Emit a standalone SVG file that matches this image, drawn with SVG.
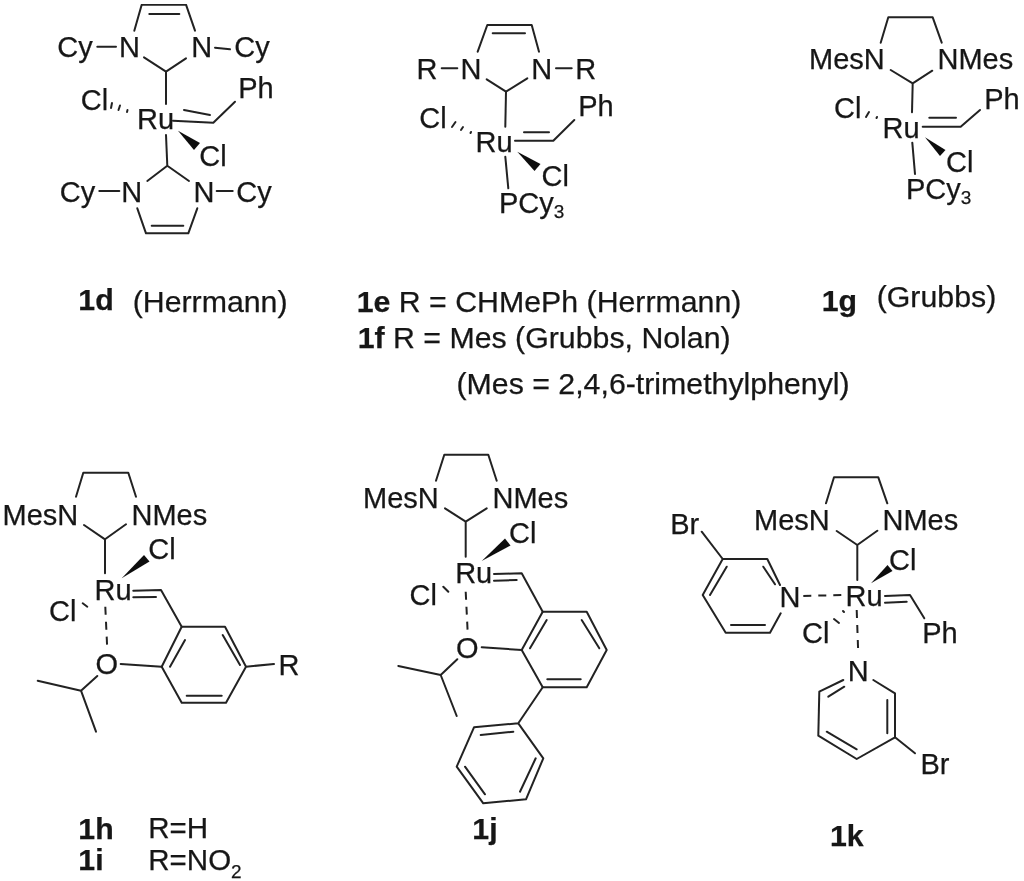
<svg xmlns="http://www.w3.org/2000/svg" width="1024" height="881" viewBox="0 0 1024 881">
<style>
text{font-family:"Liberation Sans",Arial,sans-serif;fill:#161616;stroke:#161616;stroke-width:.25}
.a{font-size:29px;text-anchor:middle}
.s{font-size:29px}
.l{font-size:30.3px}
.b{font-weight:bold}
.n{font-size:29.5px}
.bonds path{fill:none;stroke:#222;stroke-width:2;stroke-linecap:round;stroke-linejoin:round}
.bonds .d{stroke-dasharray:8 7;stroke-linecap:butt}
.bonds .w{fill:#111;stroke:none}
</style>
<defs><filter id="soft" x="0" y="0" width="100%" height="100%"><feGaussianBlur stdDeviation="0.5"/></filter></defs>
<rect width="1024" height="881" fill="#fff"/>
<g filter="url(#soft)">
<g id="mol-1d">
<g class="bonds">
<path d="M134.3 30.7L141.7 4.7H186L195 30.7M149.3 14H179.3M97.3 46.7H116M215 47.7L230 49.3M144 57.3L166 71.7L186 58.3M166 71.7V104"/>
<path d="M173 120.7L213.3 122.7L235 101.7M184 110L210 115M166 135L167.3 165.7M147.3 181L167.3 165.7L189 181"/>
<path d="M99.3 191H119.3M216.7 191H232.7M137.3 208.3L146 233.3H188.3L197.3 208.3M151.7 225.7H183.3"/>
<path d="M112 103L111 108M120 105.5L118.5 110M127.5 110L127 112"/>
<path class="w" d="M178 130.7L200 143L194 150Z"/>
</g>
<text class="a" x="75" y="57">Cy</text><text class="a" x="129.5" y="57">N</text><text class="a" x="201.7" y="57">N</text><text class="a" x="252" y="57">Cy</text>
<text class="a" x="94.5" y="110">Cl</text><text class="a" x="256" y="98">Ph</text><text class="a" x="155.5" y="129.3">Ru</text><text class="a" x="213" y="165.7">Cl</text>
<text class="a" x="77.5" y="201.7">Cy</text><text class="a" x="131.7" y="201.7">N</text><text class="a" x="204" y="201.7">N</text><text class="a" x="254" y="201.7">Cy</text>
</g>
<g id="mol-1e">
<g class="bonds">
<path d="M477.7 51.7L487.3 25H531.7L539 51.7M492.7 33.3H525M441.7 68.3H457.3M556 68.3H571.7M486.7 79.3L506 91.7L527.3 78.3M506 91.7L505.3 126.7"/>
<path d="M515 140.7H553.3L574.3 120M524 132.3H549M505.3 156.7L508.3 188.3"/>
<path d="M455.5 122L452 127M463 127L461 130M471 132L470.5 133"/>
<path class="w" d="M517.3 151.7L540.5 164L534.5 171Z"/>
</g>
<text class="a" x="427" y="79">R</text><text class="a" x="471" y="79">N</text><text class="a" x="541.7" y="79">N</text><text class="a" x="585.7" y="79">R</text>
<text class="a" x="433" y="128">Cl</text><text class="a" x="494" y="151.7">Ru</text><text class="a" x="596" y="115.7">Ph</text><text class="a" x="555.3" y="186">Cl</text>
<text class="s" x="499" y="213.3">PCy<tspan font-size="19" dy="5">3</tspan></text>
</g>
<g id="mol-1g">
<g class="bonds">
<path d="M880.7 42.7L888.3 17.3H932.7L941.7 42.7M890.7 70L912.7 83.3L932.3 70.7M912.7 83.3L912 112.3"/>
<path d="M922.7 126.7H960.7L980 110M929.3 117.7H956M912.3 142.7L915 174"/>
<path d="M869 112L866 117M877 117L876.5 118"/>
<path class="w" d="M925 137.3L945.5 150L940 156Z"/>
</g>
<text class="s" x="809" y="69.3">MesN</text><text class="s" x="937.5" y="69.3">NMes</text>
<text class="a" x="847.7" y="118.3">Cl</text><text class="a" x="901" y="138.3">Ru</text><text class="a" x="1002" y="109">Ph</text><text class="a" x="959.7" y="172.3">Cl</text>
<text class="s" x="906" y="199.3">PCy<tspan font-size="19" dy="5">3</tspan></text>
</g>
<g id="mol-1h">
<g class="bonds">
<path d="M76 496.7L83.3 472.7H128.3L136 496.7M84 525L105 539.3L126 524.3M105 539.3V573.3"/>
<path d="M133.3 590.7L161 590L181.7 626.7M133.3 597.3L156 597"/>
<path d="M181.7 626.7H225L246 666.7L226 702.7H181.7L161.7 666.7ZM170 666.7L185 640M222.7 635L240 665M186.7 695.7H221.7M246 666.7L274 664"/>
<path d="M120.7 664L161.7 666.7M97.3 676L81 690.7L37.7 680.7M81 690.7L96 731.7M82.7 603.3L87.3 606.7"/>
<path class="d" d="M105.3 606.7L107.3 650"/>
<path class="w" d="M121.7 578.3L144 555L149.5 561.5Z"/>
</g>
<text class="s" x="2.5" y="525">MesN</text><text class="s" x="131.5" y="525">NMes</text>
<text class="a" x="113" y="600">Ru</text><text class="a" x="162" y="559.3">Cl</text><text class="a" x="62.7" y="620.7">Cl</text><text class="a" x="106.7" y="674">O</text><text class="a" x="289" y="675">R</text>
</g>
<g id="mol-1j">
<g class="bonds">
<path d="M436 480.7L444.3 454.7H488.3L496.7 480.7M445 508.3L465.7 521.7L486.7 508.3M465.7 521.7V556.7"/>
<path d="M494 574L521.7 573.3L542.7 611.7M494 580.7L516.7 580"/>
<path d="M542.7 611.7H586.7L606.7 650L586.7 687.3H542.7L521.7 650ZM530 648.3L546.7 620M581.7 620L599.3 648.3M547.3 679.3H580.7"/>
<path d="M481.7 647.3L521.7 650M457.3 659.3L440.7 675L398.3 666M440.7 675L456.7 716M443.3 586.7L448.3 591.7"/>
<path d="M542.7 687.3L518.3 723.3L474 727.3L456.7 766.7L483.3 803.3L526 799.3L543.3 758.3L518.3 723.3M480.7 735L513.3 731.7M465 766.7L485 794.3M520 791.7L535.7 758.3"/>
<path class="d" d="M465.7 591.7L467.7 632.7"/>
<path class="w" d="M481.7 561L505 538.5L510.5 545.5Z"/>
</g>
<text class="s" x="363" y="508.3">MesN</text><text class="s" x="492.5" y="508.3">NMes</text>
<text class="a" x="473.7" y="583.3">Ru</text><text class="a" x="522.7" y="543.3">Cl</text><text class="a" x="423.3" y="605">Cl</text><text class="a" x="467.3" y="658.3">O</text>
</g>
<g id="mol-1k">
<g class="bonds">
<path d="M826 503.3L834 477.3H878.3L887.3 503.3M836.7 531L857.3 545L877.3 530.7M857.3 545V580"/>
<path d="M885 596L910 595L924.3 618.3M885 602.7L906.7 601.7"/>
<path d="M780 585L767.3 559H722.7L702.7 595L725.7 632.7H770L780.7 613.3M775 584.3L763.3 566.7M726.7 566.7L710 595M731 625H765M701.7 531.7L722.7 559"/>
<path d="M843.3 680L819.3 691.7L818.3 735.7L856.7 759L895 737.3V693.3L873.3 680M844.3 686.7L828.3 696.7M826.7 731.7L856.7 749.3M887.3 700V733.3M895 737.3L915 753.3"/>
<path d="M834 619L839 623M843 611L844 612"/>
<path class="d" d="M803.3 596L841.7 595M856.7 610L858.3 655"/>
<path class="w" d="M871 583.3L887.5 565L892.5 571Z"/>
</g>
<text class="s" x="754" y="530">MesN</text><text class="s" x="882.5" y="530">NMes</text>
<text class="a" x="864" y="605.7">Ru</text><text class="a" x="902.7" y="570">Cl</text><text class="a" x="815.7" y="643.3">Cl</text><text class="a" x="940" y="643.3">Ph</text>
<text class="a" x="790" y="606.7">N</text><text class="a" x="684.7" y="534">Br</text><text class="a" x="858.3" y="680.7">N</text><text class="a" x="935" y="774">Br</text>
</g>
<g id="captions">
<text class="l b" x="78.3" y="309.5">1d</text><text class="l" x="132.7" y="311.5">(Herrmann)</text>
<text class="l" x="356.7" y="312"><tspan class="b">1e</tspan> R = CHMePh (Herrmann)</text>
<text class="l" x="357.7" y="348"><tspan class="b">1f</tspan> R = Mes (Grubbs, Nolan)</text>
<text class="l" x="456.5" y="394">(Mes = 2,4,6-trimethylphenyl)</text>
<text class="l b" x="821.7" y="310.5">1g</text><text class="l" x="876.7" y="306.5">(Grubbs)</text>
<text class="l b" x="78.3" y="839">1h</text><text class="n" x="148.3" y="838">R=H</text>
<text class="l b" x="78.3" y="870">1i</text><text class="n" x="148.3" y="870">R=NO<tspan font-size="19" dy="7.5">2</tspan></text>
<text class="l b" x="472.3" y="839">1j</text>
<text class="l b" x="830" y="845.7">1k</text>
</g>
</g>
</svg>
